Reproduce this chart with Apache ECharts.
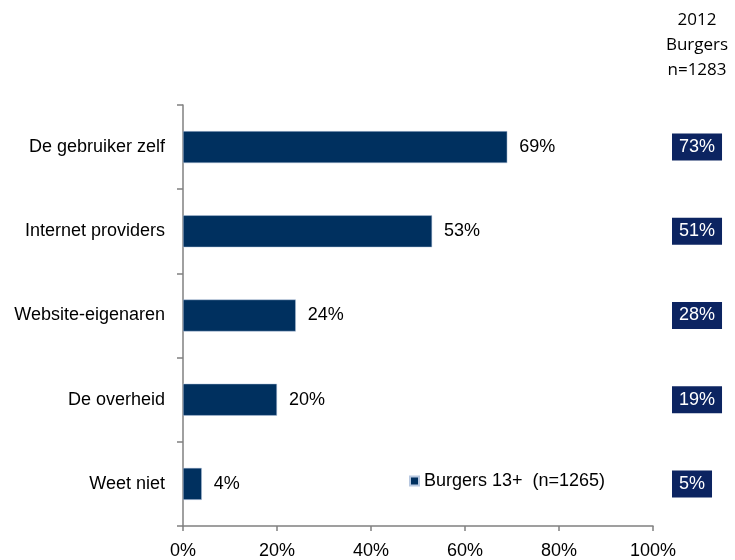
<!DOCTYPE html>
<html>
<head>
<meta charset="utf-8">
<script src="https://cdn.jsdelivr.net/npm/echarts@6/dist/echarts.min.js"></script>
<style>
  html, body { margin: 0; padding: 0; background: #fff; }
  #main { width: 735px; height: 560px; }
</style>
</head>
<body>
<div id="main"></div>
<script>
// categorieën en waarden
var categories = ['De gebruiker zelf', 'Internet providers', 'Website-eigenaren', 'De overheid', 'Weet niet'];
var values2013 = [69, 53, 24, 20, 4];
var values2012 = [73, 51, 28, 19, 5];
var xTicks = [0, 20, 40, 60, 80, 100];
var seriesName = 'Burgers 13+  (n=1265)';
var header2012 = '2012\nBurgers\nn=1283';

var chart = echarts.init(document.getElementById('main'));
var fontFam = '"Liberation Sans", Arial, sans-serif';

var option = {
    animation: false,
    // kop boven de 2012-kolom
    graphic: [{
        type: 'text',
        x: 697,
        y: 8,
        style: {
            text: header2012,
            align: 'center',
            fontFamily: '"Open Sans", "Noto Sans", sans-serif',
            fontSize: 17,
            lineHeight: 25,
            fill: '#000'
        }
    }],
    legend: {
        left: 404,
        top: 467,
        data: [seriesName],
        icon: 'rect',
        itemWidth: 9,
        itemHeight: 9,
        textStyle: { fontFamily: fontFam, fontSize: 18, color: '#000' }
    },
    grid: { left: 183, right: 82, top: 105, bottom: 33 },
    xAxis: {
        type: 'value',
        min: xTicks[0],
        max: xTicks[xTicks.length - 1],
        interval: 20,
        splitLine: { show: false },
        axisLine: { show: true, lineStyle: { color: '#808080', width: 1.5 } },
        axisTick: { show: true, length: 5, lineStyle: { color: '#808080', width: 1.5 } },
        axisLabel: {
            margin: 16,
            fontFamily: fontFam,
            fontSize: 18,
            color: '#000',
            formatter: function (v) { return v + '%'; }
        }
    },
    yAxis: [{
        type: 'category',
        data: categories,
        inverse: true,
        axisLine: { show: true, lineStyle: { color: '#808080', width: 1.5 } },
        axisTick: { show: true, length: 6, lineStyle: { color: '#808080', width: 1.5 } },
        axisLabel: { margin: 18, fontFamily: fontFam, fontSize: 18, color: '#000' }
    }, {
        // kolom met 2012-cijfers
        type: 'category',
        data: values2012.map(function (v) { return v + '%'; }),
        inverse: true,
        position: 'right',
        axisLine: { show: false },
        axisTick: { show: false },
        axisLabel: {
            margin: 19,
            align: 'left',
            fontFamily: fontFam,
            fontSize: 18,
            color: '#fff',
            backgroundColor: '#0c2461',
            padding: [5, 7, 4, 7]
        }
    }],
    series: [{
        name: seriesName,
        type: 'bar',
        data: values2013,
        barWidth: 32,
        itemStyle: { color: '#00305f', borderColor: '#b8c8e0', borderWidth: 0.5 },
        label: {
            show: true,
            position: 'right',
            distance: 12,
            fontFamily: fontFam,
            fontSize: 18,
            color: '#000',
            formatter: '{c}%'
        }
    }]
};
chart.setOption(option);
</script>
</body>
</html>
